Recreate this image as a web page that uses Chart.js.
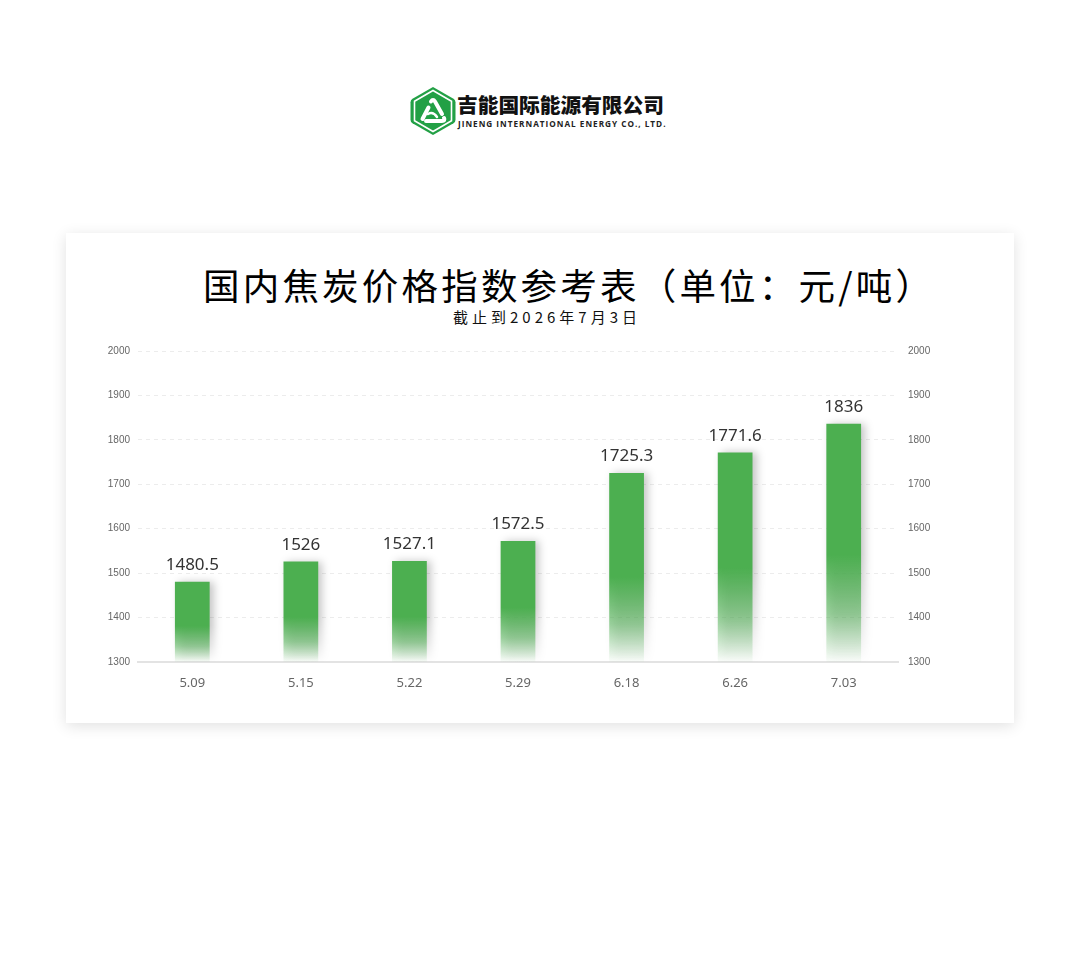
<!DOCTYPE html>
<html>
<head>
<meta charset="utf-8">
<script src="https://cdn.jsdelivr.net/npm/chart.js@4/dist/chart.umd.min.js"></script>
<style>
  html, body { margin: 0; padding: 0; background: #fff; width: 1080px; height: 957px; overflow: hidden; }
  .logo { position: absolute; left: 409px; top: 86px; width: 270px; height: 52px; }
  .logo svg { position: absolute; left: 0; top: 0; }
  .logo .cn { position: absolute; left: 48px; top: 7px; font: 900 20.7px "Noto Sans CJK SC", sans-serif; color: #111; letter-spacing: 0px; white-space: nowrap; line-height: 22px; }
  .logo .en { position: absolute; left: 49px; top: 32px; font: 700 8.2px "Open Sans", "DejaVu Sans", sans-serif; color: #222; white-space: nowrap; letter-spacing: 1px; }
  .card { position: absolute; left: 66px; top: 233px; width: 948px; height: 490px; background: #fff; box-shadow: 0 3px 14px rgba(0,0,0,0.12); }
  .title { position: absolute; left: 203px; top: 261px; font: 400 36.5px "Noto Sans CJK SC", sans-serif; color: #000; white-space: nowrap; line-height: 48px; letter-spacing: 3.2px; }
  .sub { position: absolute; left: 0; width: 1094px; top: 306px; text-align: center; font: 400 15px "Noto Sans CJK SC", sans-serif; color: #111; letter-spacing: 4px; line-height: 22px; }
  .chart-box { position: absolute; left: 66px; top: 330px; width: 948px; height: 380px; }
</style>
</head>
<body>
<div class="logo">
  <svg width="48" height="50" viewBox="0 0 48 50">
    <path d="M24 1 L44.5 12.8 Q46.5 14 46.5 16.3 L46.5 33.7 Q46.5 36 44.5 37.2 L24 49 L3.5 37.2 Q1.5 36 1.5 33.7 L1.5 16.3 Q1.5 14 3.5 12.8 Z" fill="#22a045"/>
    <path d="M24 4.5 L42.5 15.2 L42.5 34.8 L24 45.5 L5.5 34.8 L5.5 15.2 Z" fill="none" stroke="#fff" stroke-width="1.6"/>
    <path d="M22 15.5 Q24 12.5 26 15.5 L33 28" fill="none" stroke="#fff" stroke-width="4" stroke-linecap="round"/>
    <path d="M35 32 Q36.5 35 33 35 L17 35" fill="none" stroke="#fff" stroke-width="4" stroke-linecap="round"/>
    <path d="M13.5 33 L19.5 21.5" fill="none" stroke="#fff" stroke-width="4" stroke-linecap="round"/>
    <path d="M19 28 Q24 25 28 31" fill="none" stroke="#fff" stroke-width="2.5" stroke-linecap="round"/>
  </svg>
  <div class="cn">吉能国际能源有限公司</div>
  <div class="en">JINENG INTERNATIONAL ENERGY CO., LTD.</div>
</div>
<div class="card"></div>
<div class="title">国内焦炭价格指数参考表（单位：元/吨）</div>
<div class="sub">截止到2026年7月3日</div>
<div class="chart-box"><canvas id="cokeChart"></canvas></div>
<script>
// 日期和价格
const categories = ['5.09', '5.15', '5.22', '5.29', '6.18', '6.26', '7.03'];
const prices = [1480.5, 1526, 1527.1, 1572.5, 1725.3, 1771.6, 1836];
const yMin = 1300;
const yMax = 2000;
const yStep = 100;

const barGreen = '#4CAF50';

// 每根柱子单独的渐变（底部淡出）
function barGradient(context) {
    const chart = context.chart;
    const { ctx, chartArea, scales } = chart;
    if (!chartArea || context.dataIndex === undefined) return barGreen;
    const v = context.dataset.data[context.dataIndex];
    const top = scales.y.getPixelForValue(v);
    const bottom = scales.y.getPixelForValue(yMin);
    const g = ctx.createLinearGradient(0, top, 0, bottom);
    g.addColorStop(0, 'rgba(76,175,80,1)');
    g.addColorStop(0.55, 'rgba(76,175,80,1)');
    g.addColorStop(0.8, 'rgba(76,175,80,0.55)');
    g.addColorStop(1, 'rgba(76,175,80,0.02)');
    return g;
}

// 柱子阴影
const barShadow = {
    id: 'barShadow',
    beforeDatasetsDraw(chart) {
        const ctx = chart.ctx;
        ctx.save();
        ctx.shadowColor = 'rgba(0,0,0,0.22)';
        ctx.shadowBlur = 8;
        ctx.shadowOffsetX = 4;
        ctx.shadowOffsetY = 0;
    },
    afterDatasetsDraw(chart) {
        chart.ctx.restore();
    }
};

// 柱顶数值
const valueLabels = {
    id: 'valueLabels',
    afterDatasetsDraw(chart) {
        const ctx = chart.ctx;
        const meta = chart.getDatasetMeta(0);
        ctx.save();
        ctx.font = '17px "Noto Sans", "Open Sans", sans-serif';
        ctx.fillStyle = '#333';
        ctx.textAlign = 'center';
        ctx.textBaseline = 'bottom';
        meta.data.forEach((bar, i) => {
            ctx.fillText(String(prices[i]), bar.x, bar.y - 8);
        });
        ctx.restore();
    }
};

const yTicks = {
    min: yMin,
    max: yMax,
    grid: { display: false },
    border: { display: false },
    ticks: {
        stepSize: yStep,
        color: '#666',
        font: { size: 10, family: '"Liberation Sans", Arial, sans-serif' },
        callback: (v) => String(v)
    }
};

const ctx = document.getElementById('cokeChart').getContext('2d');
const chartInstance = new Chart(ctx, {
    type: 'bar',
    data: {
        labels: categories,
        datasets: [{
            label: '焦炭价格',
            data: prices,
            backgroundColor: barGradient,
            barPercentage: 0.64,
            categoryPercentage: 0.5
        }]
    },
    options: {
        responsive: true,
        maintainAspectRatio: false,
        animation: false,
        layout: { padding: { top: 21, right: 60, left: 0, bottom: 0 } },
        scales: {
            x: {
                grid: { display: false },
                border: { display: true, color: '#e3e3e3', width: 2 },
                ticks: {
                    color: '#666',
                    padding: 5,
                    font: { size: 13, family: '"Noto Sans", "Open Sans", sans-serif' }
                },
                afterFit(scale) { scale.height = 48; }
            },
            y: {
                ...yTicks,
                position: 'left',
                grid: {
                    display: true,
                    color: '#ececec',
                    drawTicks: false,
                    tickBorderDash: [4, 4]
                },
                border: { display: false, dash: [4, 4] },
                ticks: { ...yTicks.ticks, padding: 8 },
                afterFit(scale) { scale.width = 72; }
            },
            y2: {
                ...yTicks,
                position: 'right',
                grid: { display: false, drawTicks: false },
                ticks: { ...yTicks.ticks, padding: 10 },
                afterFit(scale) { scale.width = 56; }
            }
        },
        plugins: {
            legend: { display: false },
            tooltip: { enabled: false }
        }
    },
    plugins: [barShadow, valueLabels]
});
</script>
</body>
</html>
